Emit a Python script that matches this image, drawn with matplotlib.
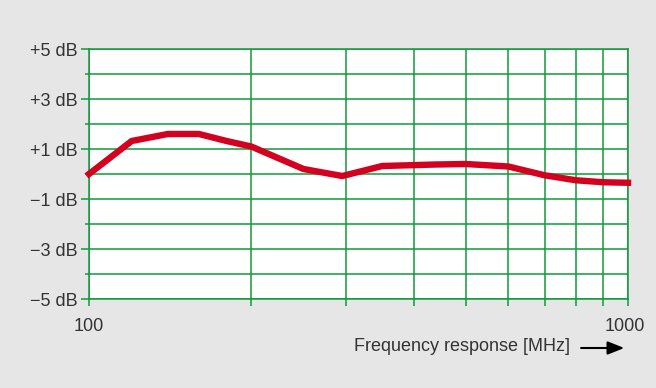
import matplotlib.pyplot as plt
from matplotlib.ticker import FixedLocator, NullFormatter
from matplotlib.transforms import ScaledTranslation

# frequency response data
freq_mhz = [100, 120, 140, 160, 180, 200, 250, 295, 350, 440, 500, 600, 700, 800, 900, 1000]
gain_db = [0.0, 1.32, 1.6, 1.6, 1.32, 1.1, 0.2, -0.08, 0.32, 0.38, 0.4, 0.3, -0.05, -0.25, -0.33, -0.35]

ytick_major = [-5, -3, -1, 1, 3, 5]
ytick_minor = [-4, -2, 0, 2, 4]
ytick_labels = ['\u22125 dB', '\u22123 dB', '\u22121 dB', '+1 dB', '+3 dB', '+5 dB']
xtick_major = [100, 1000]
xtick_minor = [200, 300, 400, 500, 600, 700, 800, 900]

green = '#0e9b3b'
red = '#d4001f'
bg = '#e6e6e6'
txt = '#333333'

plt.rcParams['font.family'] = ['Liberation Sans', 'DejaVu Sans']

fig = plt.figure(figsize=(6.56, 3.88), dpi=100, facecolor=bg)
ax = fig.add_axes([89 / 656, 1 - 299 / 388, 539 / 656, 250 / 388])
ax.set_facecolor('white')

ax.plot(freq_mhz, gain_db, color=red, lw=4.6, solid_joinstyle='round', zorder=5, clip_on=False)

ax.set_xscale('log')
ax.set_xlim(100, 1000)
ax.set_ylim(-5, 5)

ax.xaxis.set_major_locator(FixedLocator(xtick_major))
ax.xaxis.set_minor_locator(FixedLocator(xtick_minor))
ax.set_xticklabels(['100', '1000'])
ax.xaxis.set_minor_formatter(NullFormatter())

ax.set_yticks(ytick_major)
ax.set_yticklabels(ytick_labels)
ax.set_yticks(ytick_minor, minor=True)

ax.grid(True, which='both', color=green, lw=1.1, zorder=1)
ax.tick_params(axis='y', which='major', length=6, width=1.1, color=green, labelsize=13, labelcolor=txt, pad=2)
ax.tick_params(axis='y', which='minor', length=3, width=1.1, color=green)
ax.tick_params(axis='x', which='both', length=5, width=1.1, color=green, labelsize=13, labelcolor=txt, pad=9)
for s in ax.spines.values():
    s.set_color(green)
    s.set_linewidth(1.1)

# nudge the "1000" label a little left, as in the original
lbl = ax.get_xticklabels()[1]
lbl.set_transform(lbl.get_transform() + ScaledTranslation(-3 / 100, 0, fig.dpi_scale_trans))

ax.text(0.893, -0.19, 'Frequency response [MHz]', transform=ax.transAxes,
        ha='right', va='center', fontsize=13, color=txt)
ax.annotate('', xy=(0.993, -0.196), xytext=(0.913, -0.196), xycoords='axes fraction',
            textcoords='axes fraction',
            arrowprops=dict(arrowstyle='-|>,head_length=1.0,head_width=0.4', color='black', lw=1.5,
                            shrinkA=0, shrinkB=0))

fig.savefig('out.png', dpi=100, facecolor=bg)
